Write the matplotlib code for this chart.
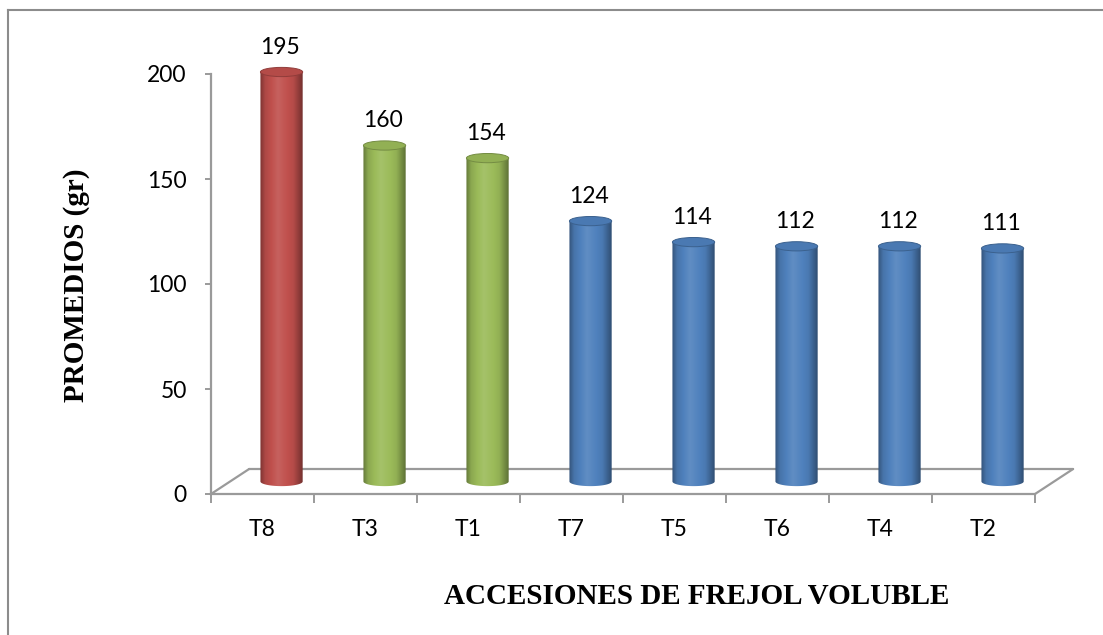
import numpy as np
import matplotlib.pyplot as plt
from matplotlib.patches import Ellipse, PathPatch
from matplotlib.path import Path
from matplotlib.lines import Line2D
from matplotlib.colors import to_rgb

categories = ["T8", "T3", "T1", "T7", "T5", "T6", "T4", "T2"]
values = [195, 160, 154, 124, 114, 112, 112, 111]
bar_colors = ["#C0504D", "#9BBB59", "#9BBB59", "#4F81BD",
              "#4F81BD", "#4F81BD", "#4F81BD", "#4F81BD"]
y_ticks = [0, 50, 100, 150, 200]
y_label = "PROMEDIOS (gr)"
x_label = "ACCESIONES DE FREJOL VOLUBLE"

W, H = 1103, 635
fig = plt.figure(figsize=(W / 100, H / 100), dpi=100)

# plot area: y=0 sits on the front floor edge, 2.1 px per unit
px_per_unit = 2.1
ymax = 215
ax = fig.add_axes([211 / W, (H - 494) / H, 824 / W, ymax * px_per_unit / H])
n = len(categories)
ax.set_xlim(-0.5, n - 0.5)
ax.set_ylim(0, ymax)

axis_gray = "#9A9A9A"
for s in ("top", "right"):
    ax.spines[s].set_visible(False)
ax.spines["left"].set_bounds(0, 200)
ax.spines["bottom"].set_bounds(-0.5, n - 0.5)
for s in ("left", "bottom"):
    ax.spines[s].set_color(axis_gray)
    ax.spines[s].set_linewidth(1.6)

tick_font = dict(family="Lato", size=16.5)
ax.set_yticks(y_ticks)
ax.set_yticklabels([str(t) for t in y_ticks], fontdict=tick_font)
ax.tick_params(axis="y", direction="out", length=4.5, width=1.4,
               color=axis_gray, pad=13)
# category boundaries carry the tick marks, centres carry the labels
ax.set_xticks(np.arange(-0.5, n, 1.0))
ax.set_xticklabels([])
ax.tick_params(axis="x", which="major", direction="out", length=6.5,
               width=1.4, color=axis_gray)
ax.set_xticks(np.arange(n), minor=True)
ax.set_xticklabels(categories, minor=True, fontdict=tick_font)
ax.tick_params(axis="x", which="minor", length=0, pad=18)

# floor of the 3-D plot
depth_x, depth_y = 0.37, 11.9
floor_kw = dict(color=axis_gray, lw=1.6, clip_on=False, solid_capstyle="round")
ax.plot([-0.5 + depth_x, n - 0.5 + depth_x], [depth_y, depth_y], **floor_kw)
ax.plot([-0.5, -0.5 + depth_x], [0, depth_y], **floor_kw)
ax.plot([n - 0.5, n - 0.5 + depth_x], [0, depth_y], **floor_kw)


def mix(c, amount):
    c = np.array(to_rgb(c))
    if amount >= 0:
        return c + (1 - c) * amount
    return c * (1 + amount)


cyl_w = 0.41
ell_h = 4.4
base = depth_y / 2
off_x = depth_x / 2
t = np.linspace(0, 1, 200)
shade = np.interp(t, [0, 0.12, 0.42, 0.78, 1.0], [-0.36, -0.1, 0.1, -0.06, -0.4])

for i, (v, col) in enumerate(zip(values, bar_colors)):
    cx = i + off_x
    x0, x1 = cx - cyl_w / 2, cx + cyl_w / 2
    top = base + v
    # body outline: rectangle with a rounded (half-ellipse) bottom
    ang = np.linspace(np.pi, 2 * np.pi, 60)
    bx = cx + cyl_w / 2 * np.cos(ang)
    by = base + ell_h / 2 * np.sin(ang)
    verts = [(x0, top)] + list(zip(bx, by)) + [(x1, top), (x0, top)]
    codes = [Path.MOVETO] + [Path.LINETO] * (len(verts) - 2) + [Path.CLOSEPOLY]
    body = PathPatch(Path(verts, codes), facecolor="none", edgecolor="none")
    ax.add_patch(body)
    grad = np.array([mix(col, s) for s in shade])[None, :, :]
    im = ax.imshow(grad, extent=[x0, x1, base - ell_h, top], aspect="auto",
                   interpolation="bilinear", zorder=2)
    im.set_clip_path(body)
    # top cap
    cap = Ellipse((cx, top), cyl_w, ell_h, facecolor=mix(col, -0.06),
                  edgecolor=mix(col, -0.25), lw=0.7, zorder=3)
    ax.add_patch(cap)
    ax.text(cx - 0.02, top + ell_h / 2 + 4.5, str(v), ha="center", va="bottom",
            zorder=4, **{"family": "Lato", "size": 16.5})

ax.set_xlim(-0.5, n - 0.5)
ax.set_ylim(0, ymax)

title_font = dict(family="Liberation Serif", weight="bold", size=21)
fig.text(77 / W, 1 - 285 / H, y_label, rotation=90, ha="center", va="center",
         **title_font)
fig.text(697 / W, 1 - 597 / H, x_label, ha="center", va="center", **title_font)

# chart area border (top and left edges)
frame_kw = dict(color="#8C8C8C", lw=1.5, transform=fig.transFigure)
fig.add_artist(Line2D([8 / W, 8 / W], [0, 1 - 10 / H], **frame_kw))
fig.add_artist(Line2D([8 / W, 1], [1 - 10 / H, 1 - 10 / H], **frame_kw))

fig.savefig("out.png", dpi=100)
